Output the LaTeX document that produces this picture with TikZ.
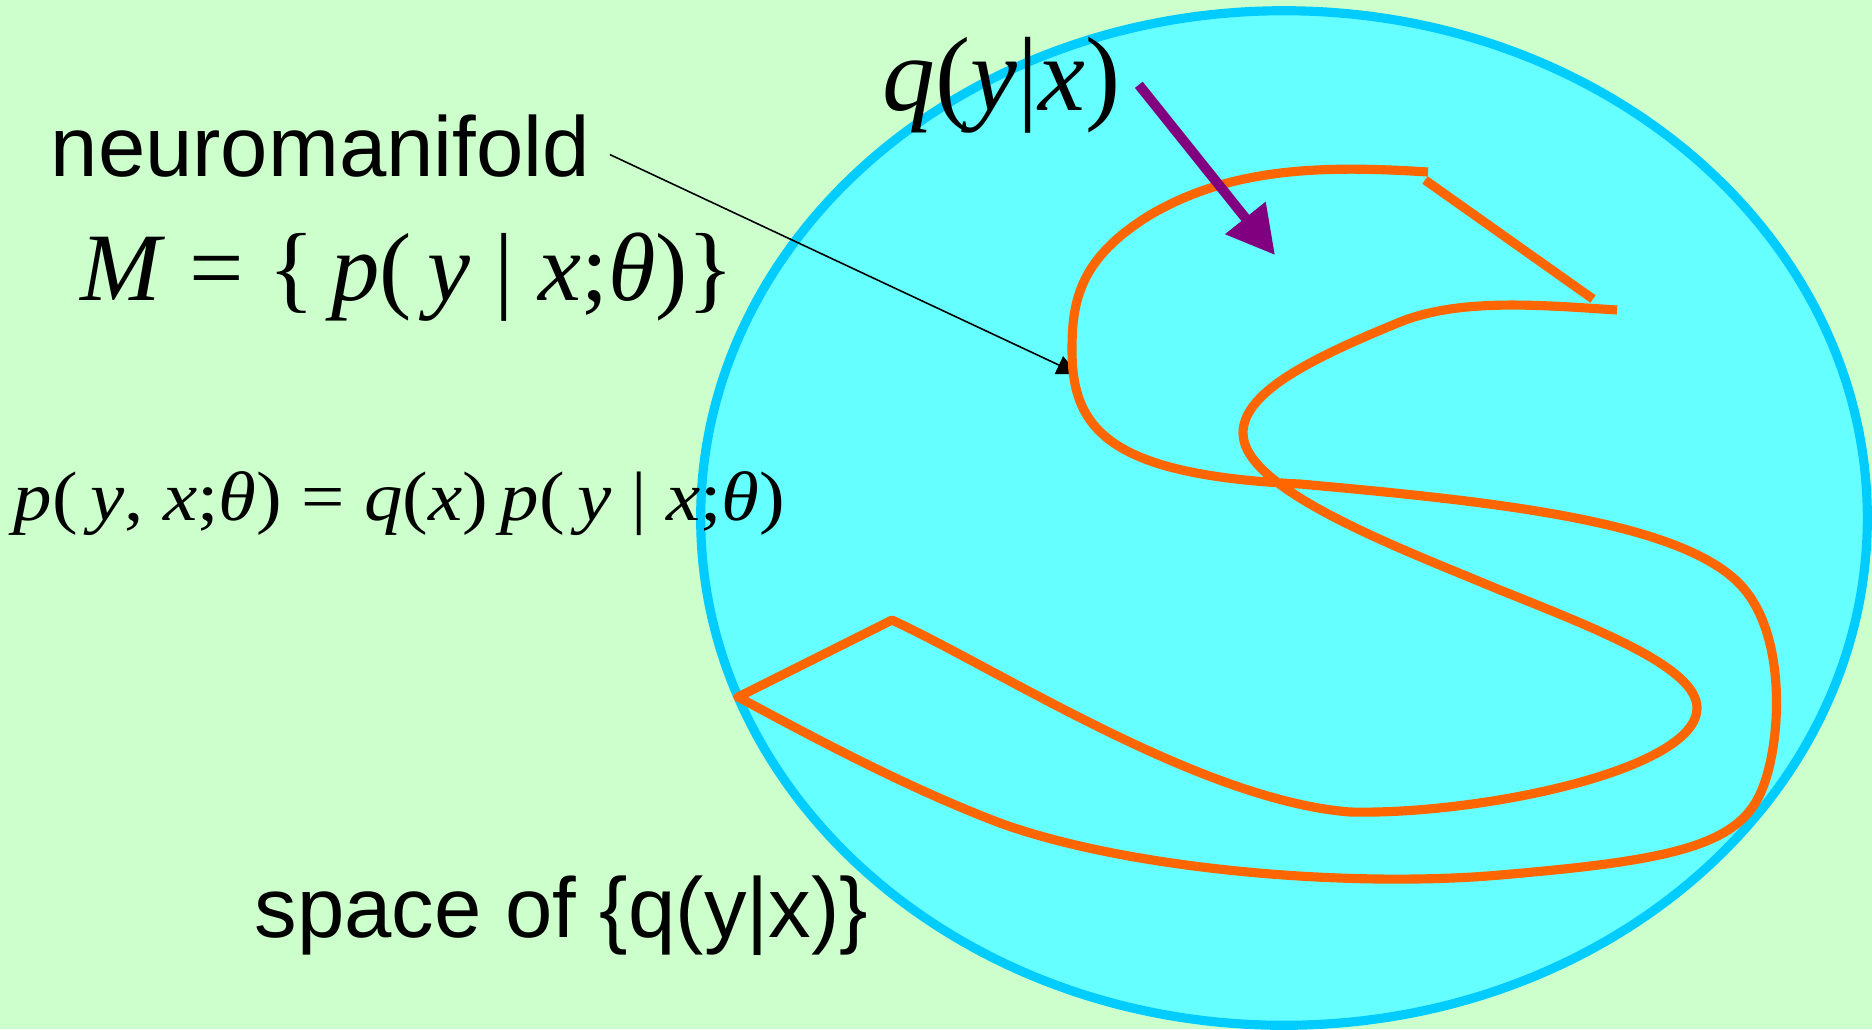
\documentclass[tikz,border=0pt]{standalone}
\usepackage{fontspec}
\setmainfont{Liberation Serif}
\setsansfont{Liberation Sans}
\usepackage{graphicx}
\usetikzlibrary{arrows.meta, positioning}
\definecolor{bgcolor}{RGB}{204,255,204}
\definecolor{spacefill}{RGB}{102,255,255}
\definecolor{spaceborder}{RGB}{0,204,255}
\definecolor{curveorange}{RGB}{255,102,0}
\definecolor{truepurple}{RGB}{128,0,128}
\tikzset{
    sanstext/.style={inner sep=0pt, anchor=base west,
        font=\sffamily\fontsize{24.2pt}{29pt}\selectfont},
    formula/.style={inner sep=0pt, anchor=base west},
    manifold/.style={draw=curveorange, line width=2.6pt, line join=round},
    qarrow/.style={-{Triangle[length=13.5pt, width=14pt]}, draw=truepurple, line width=2.8pt},
    pointer/.style={-{Triangle[length=6pt, width=5.5pt]}, line width=0.45pt}
}
\newcommand{\mvar}[1]{\textit{#1}}

\begin{document}
\begin{tikzpicture}[x=0.01cm, y=-0.01cm]
    \fill[bgcolor] (0,0) rectangle (1872,1029);
    \useasboundingbox (0,0) rectangle (1872,1029);
    \draw[draw=spaceborder, fill=spacefill, line width=2.6pt] (1284,518) ellipse [x radius=5.83cm, y radius=5.07cm];

    \node[sanstext] (neuro) at (50,176) {neuromanifold};
    \node[formula, font=\fontsize{27.5pt}{33pt}\selectfont] (mset) at (80,300)
        {\mvar{M} = \{\,\mvar{p}(\,\mvar{y} | \mvar{x};\mvar{θ})\}};
    \node[formula, font=\fontsize{19.9pt}{24pt}\selectfont] (joint) at (13,520)
        {\scalebox{1.1}[1]{\mvar{p}(\,\mvar{y}, \mvar{x};\mvar{θ}) = \mvar{q}(\mvar{x})\,\mvar{p}(\,\mvar{y} | \mvar{x};\mvar{θ})}};
    \node[formula, font=\fontsize{30pt}{36pt}\selectfont] (qtrue) at (882,110)
        {\mvar{q}(\mvar{y}|\mvar{x})};
    \node[sanstext] (space) at (254,937) {space of \{q(y|x)\}};

    \coordinate (foldpt) at (1078,374);
    \coordinate (qtip) at (1275,255);
    \draw[pointer, shorten <=6pt] (neuro.east) -- (foldpt);

    % folded sheet
    \draw[manifold] (1428,172) .. controls (1320,165) and (1230,168) .. (1150,215)
        .. controls (1080,258) and (1072,300) .. (1072,350)
        .. controls (1072,430) and (1110,475) .. (1300,484)
        .. controls (1500,502) and (1690,522) .. (1745,590)
        .. controls (1790,645) and (1780,760) .. (1757,800)
        .. controls (1730,850) and (1650,862) .. (1500,875)
        .. controls (1350,888) and (1130,870) .. (1000,823)
        .. controls (900,785) and (800,730) .. (738,697)
        -- (892,620)
        .. controls (1000,670) and (1200,800) .. (1350,812)
        .. controls (1480,815) and (1697,770) .. (1697,708)
        .. controls (1697,668) and (1600,630) .. (1500,590)
        .. controls (1400,548) and (1243,490) .. (1243,433)
        .. controls (1243,390) and (1320,355) .. (1400,322)
        .. controls (1460,298) and (1540,305) .. (1617,310);
    \draw[manifold] (1425,180) -- (1593,299);

    \draw[qarrow] ([xshift=5pt]qtrue.east) -- (qtip);
\end{tikzpicture}
\end{document}
